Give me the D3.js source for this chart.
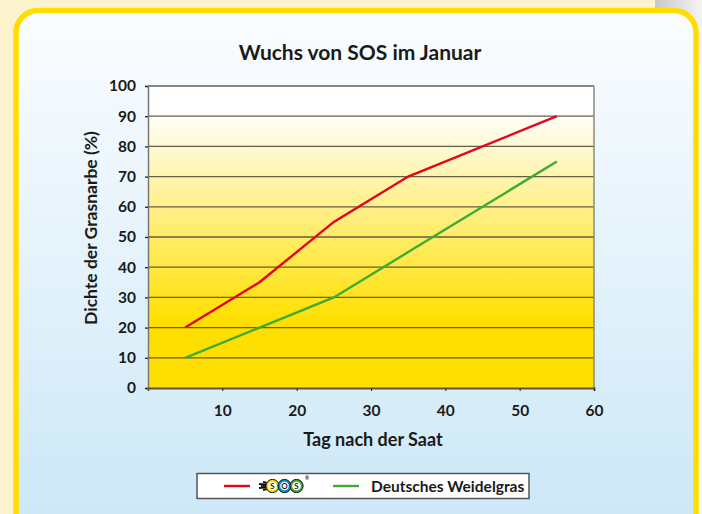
<!DOCTYPE html>
<html>
<head>
<meta charset="utf-8">
<script src="https://cdn.jsdelivr.net/npm/d3@7"></script>
<style>
  html, body { margin: 0; padding: 0; background: #fdf4cf; }
  svg { display: block; }
  text { font-family: Lato, 'Open Sans', sans-serif; font-weight: 700; fill: #1a1a1a; }
</style>
</head>
<body>
<div id="chart"></div>
<script>
// ── DATA ──────────────────────────────────────────────────────────
const days       = [5, 15, 25, 35, 55];
const sosValues  = [20, 35, 55, 70, 90];
const ryeValues  = [10, 20, 30, 45, 75];
const xTicks     = [10, 20, 30, 40, 50, 60];
const yTicks     = [0, 10, 20, 30, 40, 50, 60, 70, 80, 90, 100];
const seriesNames = ['SOS', 'Deutsches Weidelgras'];

const W = 702, H = 514;
const margin = { left: 148, right: 108, top: 86, bottom: 126 };

const svg = d3.select('#chart').append('svg').attr('width', W).attr('height', H);
const defs = svg.append('defs');

// background gradients
const bg = defs.append('linearGradient').attr('id', 'panelBg')
  .attr('x1', 0).attr('y1', 0).attr('x2', 0).attr('y2', 1);
bg.append('stop').attr('offset', '0%').attr('stop-color', '#fbfdff');
bg.append('stop').attr('offset', '100%').attr('stop-color', '#cbe7f7');

const plotBg = defs.append('linearGradient').attr('id', 'plotBg')
  .attr('x1', 0).attr('y1', 0).attr('x2', 0).attr('y2', 1);
plotBg.append('stop').attr('offset', '0%').attr('stop-color', '#ffffff');
plotBg.append('stop').attr('offset', '8%').attr('stop-color', '#ffffff');
plotBg.append('stop').attr('offset', '78%').attr('stop-color', '#ffdf00');
plotBg.append('stop').attr('offset', '100%').attr('stop-color', '#ffdf00');

const grey = defs.append('linearGradient').attr('id', 'greyBg')
  .attr('x1', 0).attr('y1', 0).attr('x2', 1).attr('y2', 0);
grey.append('stop').attr('offset', '0%').attr('stop-color', '#c9c9c9');
grey.append('stop').attr('offset', '100%').attr('stop-color', '#f4f4f4');

svg.append('rect').attr('x', 655).attr('y', 0).attr('width', 47).attr('height', H)
  .attr('fill', 'url(#greyBg)');

// ── FRAME ─────────────────────────────────────────────────────────
svg.append('rect')
  .attr('x', 16).attr('y', 10.5).attr('width', 680).attr('height', 525)
  .attr('rx', 22)
  .attr('fill', 'url(#panelBg)')
  .attr('stroke', '#ffdd00').attr('stroke-width', 5.5);

// ── SCALES ────────────────────────────────────────────────────────
const x = d3.scaleLinear().domain([0, 60]).range([margin.left, W - margin.right]);
const y = d3.scaleLinear().domain([0, 100]).range([H - margin.bottom, margin.top]);

svg.append('rect')
  .attr('x', x(0)).attr('y', y(100))
  .attr('width', x(60) - x(0)).attr('height', y(0) - y(100))
  .attr('fill', 'url(#plotBg)');

// gridlines
svg.append('g').selectAll('line')
  .data(yTicks.filter(d => d > 0))
  .enter().append('line')
    .attr('x1', x(0)).attr('x2', x(60))
    .attr('y1', d => y(d)).attr('y2', d => y(d))
    .attr('stroke', '#4a4536').attr('stroke-width', 1.3).attr('opacity', 0.85);

// right border
svg.append('line')
  .attr('x1', x(60)).attr('x2', x(60)).attr('y1', y(100)).attr('y2', y(0))
  .attr('stroke', '#8a8a80').attr('stroke-width', 1.5);

// y axis
const yAxis = svg.append('g')
  .attr('transform', `translate(${x(0)},0)`)
  .call(d3.axisLeft(y).tickValues(yTicks).tickSize(3).tickPadding(9));
yAxis.select('.domain').attr('stroke', '#777').attr('stroke-width', 1.5);
yAxis.selectAll('.tick line').attr('stroke', '#222').attr('stroke-width', 1.3);
yAxis.selectAll('.tick text')
  .attr('font-size', 15.5).attr('fill', '#1a1a1a')
  .style('font-family', 'Lato, sans-serif').style('font-weight', 700);

// x axis
const xAxis = svg.append('g')
  .attr('transform', `translate(0,${y(0)})`)
  .call(d3.axisBottom(x).tickValues(xTicks).tickSize(3).tickPadding(14));
xAxis.select('.domain').attr('stroke', '#5e5535').attr('stroke-width', 1.8);
xAxis.selectAll('.tick line').attr('stroke', '#222').attr('stroke-width', 1);
xAxis.selectAll('.tick text')
  .attr('font-size', 15.5).attr('fill', '#1a1a1a')
  .style('font-family', 'Lato, sans-serif').style('font-weight', 700);

// ── LINES ─────────────────────────────────────────────────────────
const line = d3.line().x(d => x(d[0])).y(d => y(d[1]));
svg.append('path')
  .datum(days.map((d, i) => [d, ryeValues[i]]))
  .attr('d', line).attr('fill', 'none')
  .attr('stroke', '#3eab34').attr('stroke-width', 2.4);
svg.append('path')
  .datum(days.map((d, i) => [d, sosValues[i]]))
  .attr('d', line).attr('fill', 'none')
  .attr('stroke', '#e3051b').attr('stroke-width', 2.4);

// ── TITLES ────────────────────────────────────────────────────────
svg.append('text')
  .attr('x', 360).attr('y', 60)
  .attr('text-anchor', 'middle').attr('font-size', 21)
  .text('Wuchs von SOS im Januar');

svg.append('text')
  .attr('x', 373).attr('y', 446)
  .attr('text-anchor', 'middle').attr('font-size', 18)
  .text('Tag nach der Saat');

svg.append('text')
  .attr('transform', 'translate(97,228) rotate(-90)')
  .attr('text-anchor', 'middle').attr('font-size', 17.5)
  .text('Dichte der Grasnarbe (%)');

// ── LEGEND ────────────────────────────────────────────────────────
const lg = svg.append('g');
lg.append('rect')
  .attr('x', 197).attr('y', 473.5).attr('width', 332).attr('height', 25)
  .attr('fill', '#ffffff').attr('stroke', '#555').attr('stroke-width', 1.5);

const ly = 486;
lg.append('line').attr('x1', 224).attr('x2', 250).attr('y1', ly).attr('y2', ly)
  .attr('stroke', '#e3051b').attr('stroke-width', 2.4);
lg.append('line').attr('x1', 333).attr('x2', 359).attr('y1', ly).attr('y2', ly)
  .attr('stroke', '#3eab34').attr('stroke-width', 2.4);
lg.append('text')
  .attr('x', 371).attr('y', ly + 5.5).attr('font-size', 15.5)
  .text(seriesNames[1]);

// SOS logo (series name shown as badge)
const logo = lg.append('g').attr('aria-label', seriesNames[0]);
[[-4, 4], [-2, 0], [0, 2], [2, 0], [4, 4]].forEach(([dy, dx]) => {
  logo.append('line')
    .attr('x1', 259 + dx).attr('x2', 270).attr('y1', ly + dy).attr('y2', ly + dy * 0.6)
    .attr('stroke', '#111').attr('stroke-width', 1.8);
});
const badges = [
  { cx: 272.5, fill: '#ffdd00', ch: 'S' },
  { cx: 284.5, fill: '#0090d4', ch: 'O' },
  { cx: 296.5, fill: '#3eab34', ch: 'S' }
];
badges.forEach(b => {
  logo.append('circle').attr('cx', b.cx).attr('cy', ly).attr('r', 6.6)
    .attr('fill', b.fill).attr('stroke', '#111').attr('stroke-width', 1);
  logo.append('circle').attr('cx', b.cx).attr('cy', ly).attr('r', 4.3)
    .attr('fill', '#ffffff');
  logo.append('text').attr('x', b.cx).attr('y', ly + 3)
    .attr('text-anchor', 'middle').attr('font-size', 8).text(b.ch);
});
logo.append('text').attr('x', 305).attr('y', 480).attr('font-size', 5).text('®');
</script>
</body>
</html>
